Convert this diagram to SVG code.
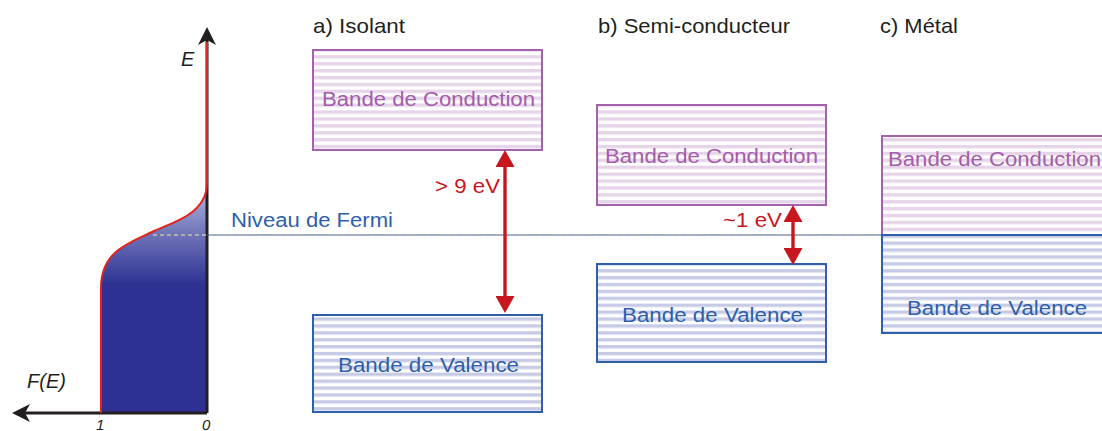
<svg xmlns="http://www.w3.org/2000/svg" width="1102" height="431" viewBox="0 0 1102 431">
<style>
text{font-family:"Liberation Sans",Arial,sans-serif;}
.title{font-size:21px;fill:#231f20;}
.cb{fill:url(#stripeC);stroke:#a362ab;stroke-width:2;}
.vb{fill:url(#stripeV);stroke:#2d5fab;stroke-width:2;}
.ct{font-size:20px;fill:#a35ca8;}
.vt{font-size:20px;fill:#2d5fab;}
.ev{font-size:20px;fill:#c8161e;}
.ax{font-size:20px;font-style:italic;fill:#231f20;}
.tick{font-size:15px;font-style:italic;fill:#231f20;}
.red{stroke:#c8161e;stroke-width:3.4;fill:none;marker-start:url(#rh);marker-end:url(#rh);}
.axis{stroke:#231f20;stroke-width:3;fill:none;}
</style>
<defs>
<pattern id="stripeC" patternUnits="userSpaceOnUse" width="10" height="6.9" y="0">
<rect width="10" height="6.9" fill="#ffffff"/>
<rect y="0" width="10" height="3.4" fill="#e6d4e9"/>
</pattern>
<pattern id="stripeV" patternUnits="userSpaceOnUse" width="10" height="6.9" y="0">
<rect width="10" height="6.9" fill="#ffffff"/>
<rect y="0" width="10" height="3.4" fill="#c7cbe6"/>
</pattern>
<linearGradient id="fillG" gradientUnits="userSpaceOnUse" x1="0" y1="183" x2="0" y2="285">
<stop offset="0" stop-color="#b6bee4"/>
<stop offset="0.5" stop-color="#6f74b8"/>
<stop offset="1" stop-color="#2e3192"/>
</linearGradient>
<marker id="rh" viewBox="0 0 17 19" markerUnits="userSpaceOnUse" markerWidth="17" markerHeight="19" refX="11" refY="9.5" orient="auto-start-reverse">
<path d="M0,0 L17,9.5 L0,19 Z" fill="#c8161e"/>
</marker>
<marker id="ah" viewBox="0 0 18 18" markerUnits="userSpaceOnUse" markerWidth="18" markerHeight="18" refX="12" refY="9" orient="auto">
<path d="M0,0 L18,9 L0,18 L5,9 Z" fill="#231f20"/>
</marker>
</defs>

<g id="plot">
<path d="M101,413 V288 C101,250 130,243 154,231 C170,223 207,215 207,183 V413 Z" fill="url(#fillG)"/>
<line class="axis" x1="207" y1="413" x2="207" y2="33" marker-end="url(#ah)"/>
<line class="axis" x1="207" y1="413" x2="18" y2="413" marker-end="url(#ah)"/>
<path d="M101,413 V288 C101,250 130,243 154,231 C170,223 207,215 207,183 V42" fill="none" stroke="#e2231a" stroke-width="2"/>
<text class="ax" x="181" y="66">E</text>
<text class="ax" x="27" y="388">F(E)</text>
<text class="tick" x="96" y="430">1</text>
<text class="tick" x="202" y="430">0</text>
</g>

<g id="fermi">
<line x1="207" y1="235" x2="882" y2="235" stroke="#2d5fab" stroke-width="1"/>
<line x1="153" y1="235" x2="882" y2="235" stroke="#b0b0b0" stroke-width="2" stroke-dasharray="4 3"/>
<text x="231" y="227" font-size="20" fill="#2d5fab" textLength="162" lengthAdjust="spacingAndGlyphs">Niveau de Fermi</text>
</g>

<g id="titles">
<text class="title" x="313" y="33" textLength="92" lengthAdjust="spacingAndGlyphs">a) Isolant</text>
<text class="title" x="598" y="33" textLength="192" lengthAdjust="spacingAndGlyphs">b) Semi-conducteur</text>
<text class="title" x="880" y="33" textLength="78" lengthAdjust="spacingAndGlyphs">c) Métal</text>
</g>

<g id="isolant-conduction">
<rect class="cb" x="313" y="50" width="229" height="100"/>
<text class="ct" x="322" y="106" textLength="213" lengthAdjust="spacingAndGlyphs">Bande de Conduction</text>
</g>
<g id="isolant-valence">
<rect class="vb" x="313" y="315" width="229" height="97"/>
<text class="vt" x="338" y="372" textLength="181" lengthAdjust="spacingAndGlyphs">Bande de Valence</text>
</g>

<g id="semi-conduction">
<rect class="cb" x="597" y="105" width="229" height="100"/>
<text class="ct" x="605" y="163" textLength="213" lengthAdjust="spacingAndGlyphs">Bande de Conduction</text>
</g>
<g id="semi-valence">
<rect class="vb" x="597" y="264" width="229" height="98"/>
<text class="vt" x="622" y="322" textLength="181" lengthAdjust="spacingAndGlyphs">Bande de Valence</text>
</g>

<g id="metal-conduction">
<rect class="cb" x="882" y="136" width="240" height="99"/>
<text class="ct" x="888" y="166" textLength="213" lengthAdjust="spacingAndGlyphs">Bande de Conduction</text>
</g>
<g id="metal-valence">
<rect class="vb" x="882" y="235" width="240" height="98"/>
<text class="vt" x="907" y="315" textLength="180" lengthAdjust="spacingAndGlyphs">Bande de Valence</text>
</g>

<g id="connectors">
<line class="red" x1="505" y1="156" x2="505" y2="307"/>
<line class="red" x1="793" y1="211" x2="793" y2="259"/>
</g>
<g id="gap-labels">
<text class="ev" x="435" y="193" textLength="65" lengthAdjust="spacingAndGlyphs">&gt; 9 eV</text>
<text class="ev" x="723" y="227" textLength="59" lengthAdjust="spacingAndGlyphs">~1 eV</text>
</g>
</svg>
